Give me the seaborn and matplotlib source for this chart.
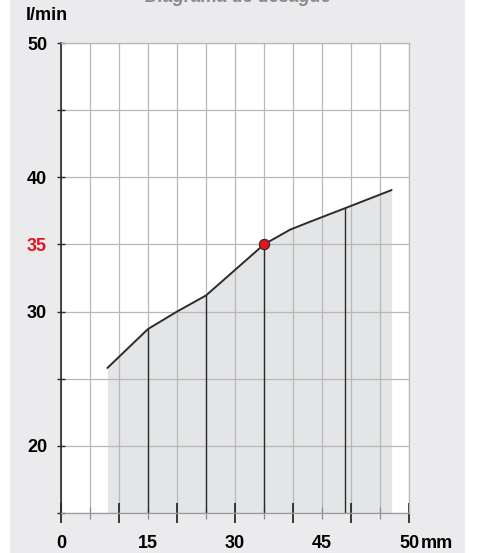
import numpy as np
import matplotlib
matplotlib.use("Agg")
import matplotlib.pyplot as plt
import seaborn as sns

# Flow curve (water height in mm -> flow in l/min)
height_mm = [8, 15, 20, 25, 30, 35, 39.5, 43, 49, 57]
flow_lmin = [25.8, 28.7, 30.0, 31.2, 33.1, 35.0, 36.1, 36.7, 37.7, 39.05]
drop_mm = [15, 25, 35, 49]
marked_mm = 35
marked_flow = 35.0

x_label_pos = [0, 15, 30, 45, 60]
x_label_txt = ["0", "15", "30", "45", "50"]
y_ticks = [15, 20, 25, 30, 35, 40, 45, 50]
y_tick_txt = ["", "20", "", "30", "35", "40", "", "50"]

sns.set_theme(style="white")
plt.rcParams['font.family'] = ['Liberation Sans', 'DejaVu Sans']

PANEL = "#ebebed"
FILL = "#e4e5e7"
GRID = "#b8b8b8"
DARK = "#2b2b2b"
FS = 13

fig = plt.figure(figsize=(4.8, 5.53), dpi=100)
fig.patch.set_facecolor("white")
fig.patches.append(plt.Rectangle((10 / 480, 0), 455 / 480, 1, transform=fig.transFigure,
                                 facecolor=PANEL, edgecolor="none", zorder=-10))

ax = fig.add_axes([61 / 480, 1 - 513 / 553, 348 / 480, 470 / 553])
ax.set_zorder(1)
ax.set_facecolor("white")
ax.set_xlim(0, 60)
ax.set_ylim(15, 50)

# grid
ax.set_axisbelow(True)
ax.set_xticks(np.arange(0, 61, 10))
ax.set_xticks(np.arange(5, 60, 10), minor=True)
ax.set_yticks(y_ticks)
ax.set_yticklabels(y_tick_txt)
ax.grid(True, which="both", axis="x", color=GRID, lw=0.9, zorder=0.5)
ax.grid(True, which="major", axis="y", color=GRID, lw=0.9, zorder=0.5)

# shaded area and curve
ax.fill_between(height_mm, flow_lmin, 15, color=FILL, lw=0, zorder=0.3)
sns.lineplot(x=height_mm, y=flow_lmin, ax=ax, color=DARK, lw=1.4, zorder=3)
for xm in drop_mm:
    top = flow_lmin[height_mm.index(xm)]
    ax.plot([xm, xm], [15, top], color=DARK, lw=1.0, zorder=2)
sns.scatterplot(x=[marked_mm], y=[marked_flow], ax=ax, s=55, color="#e3141e",
                edgecolor=DARK, linewidth=0.8, zorder=4)

# spines
for s in ["top", "right", "bottom"]:
    ax.spines[s].set_color(GRID)
    ax.spines[s].set_linewidth(0.9)
ax.spines["bottom"].set_color("#9a9a9a")
ax.spines["left"].set_color(DARK)
ax.spines["left"].set_linewidth(1.2)

# ticks
ax.tick_params(axis="x", which="major", bottom=True, direction="inout", length=14,
               width=1.3, color=DARK, labelbottom=False)
ax.tick_params(axis="x", which="minor", bottom=True, direction="inout", length=8.5,
               width=0.9, color="#8a8a8a", labelbottom=False)
ax.tick_params(axis="y", which="major", left=True, direction="inout", length=6,
               width=1.0, color=DARK, pad=7, labelsize=FS)
for lab in ax.get_yticklabels():
    lab.set_fontweight("bold")
    lab.set_color("#e3141e" if lab.get_text() == "35" else "black")

tr = ax.get_xaxis_transform()
for xp, t in zip(x_label_pos, x_label_txt):
    ax.text(xp, -0.064, t, transform=tr, ha="center", va="center",
            fontsize=FS, fontweight="bold", color="black")
ax.annotate("mm", xy=(60, -0.064), xycoords=tr, xytext=(8.5, 0), textcoords="offset points",
            ha="left", va="center", fontsize=FS, fontweight="bold", color="black")

fig.text(26 / 480, 1 - 15 / 553, "l/min", ha="left", va="center",
         fontsize=FS, fontweight="bold", color="black")
fig.text(238 / 480, 1 - 1.5 / 553, "Diagrama de desagüe", ha="center", va="baseline",
         fontsize=FS, fontweight="bold", fontstyle="italic", color="#8a8a8a")

fig.savefig("out.png", dpi=100)
